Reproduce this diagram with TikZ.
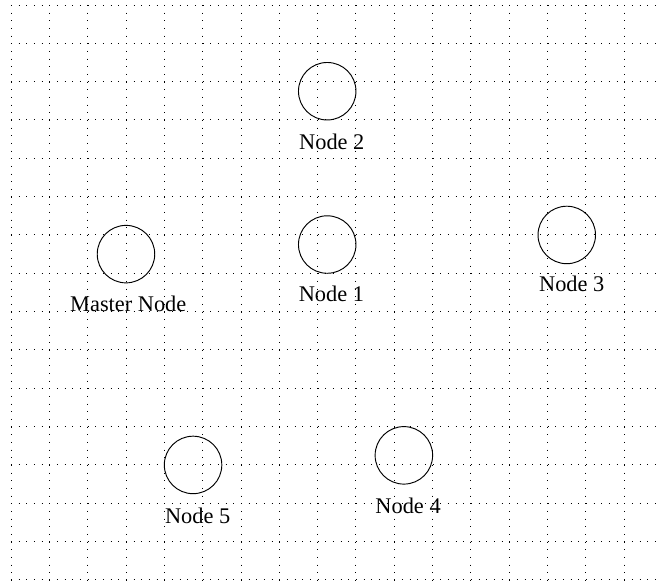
\documentclass[tikz,border=0pt]{standalone}
\usepackage{fontspec}
\setmainfont{Liberation Serif}
\usetikzlibrary{positioning}
\tikzset{
  gridline/.style={line width=0.7pt,black,dash pattern=on 0.8pt off 4.89pt},
  node-c/.style={draw,circle,minimum size=1.5cm,inner sep=0pt,line width=0.7pt},
  node-l/.style={anchor=base,inner sep=0pt,font=\fontsize{16.6}{19}\selectfont},
}
\begin{document}
\begin{tikzpicture}

  \useasboundingbox (-0.287,-0.052) rectangle (16.854,15.130);
  \clip (-0.287,-0.052) rectangle (16.854,15.130);

  % grid
  \foreach \x in {0,...,16}
    \draw[gridline] (\x,15) -- (\x,-0.3);
  \foreach \y in {0,...,15}
    \draw[gridline] (0,\y) -- (17.2,\y);

  % nodes
  \node[node-c] (master) at (3,8.5)     {};
  \node[node-c] (n1)     at (8.25,8.75)  {};
  \node[node-c] (n2)     at (8.25,12.75) {};
  \node[node-c] (n3)     at (14.5,9)     {};
  \node[node-c] (n4)     at (10.25,3.25) {};
  \node[node-c] (n5)     at (4.75,3)     {};

  % labels
  \node[node-l] (master-l) at (3.06,7)    {Master Node};
  \node[node-l] (n1-l)     at (8.36,7.26) {Node 1};
  \node[node-l] (n2-l)     at (8.37,11.22) {Node 2};
  \node[node-l] (n3-l)     at (14.63,7.52) {Node 3};
  \node[node-l] (n4-l)     at (10.36,1.74) {Node 4};
  \node[node-l] (n5-l)     at (4.87,1.48) {Node 5};

\end{tikzpicture}
\end{document}
